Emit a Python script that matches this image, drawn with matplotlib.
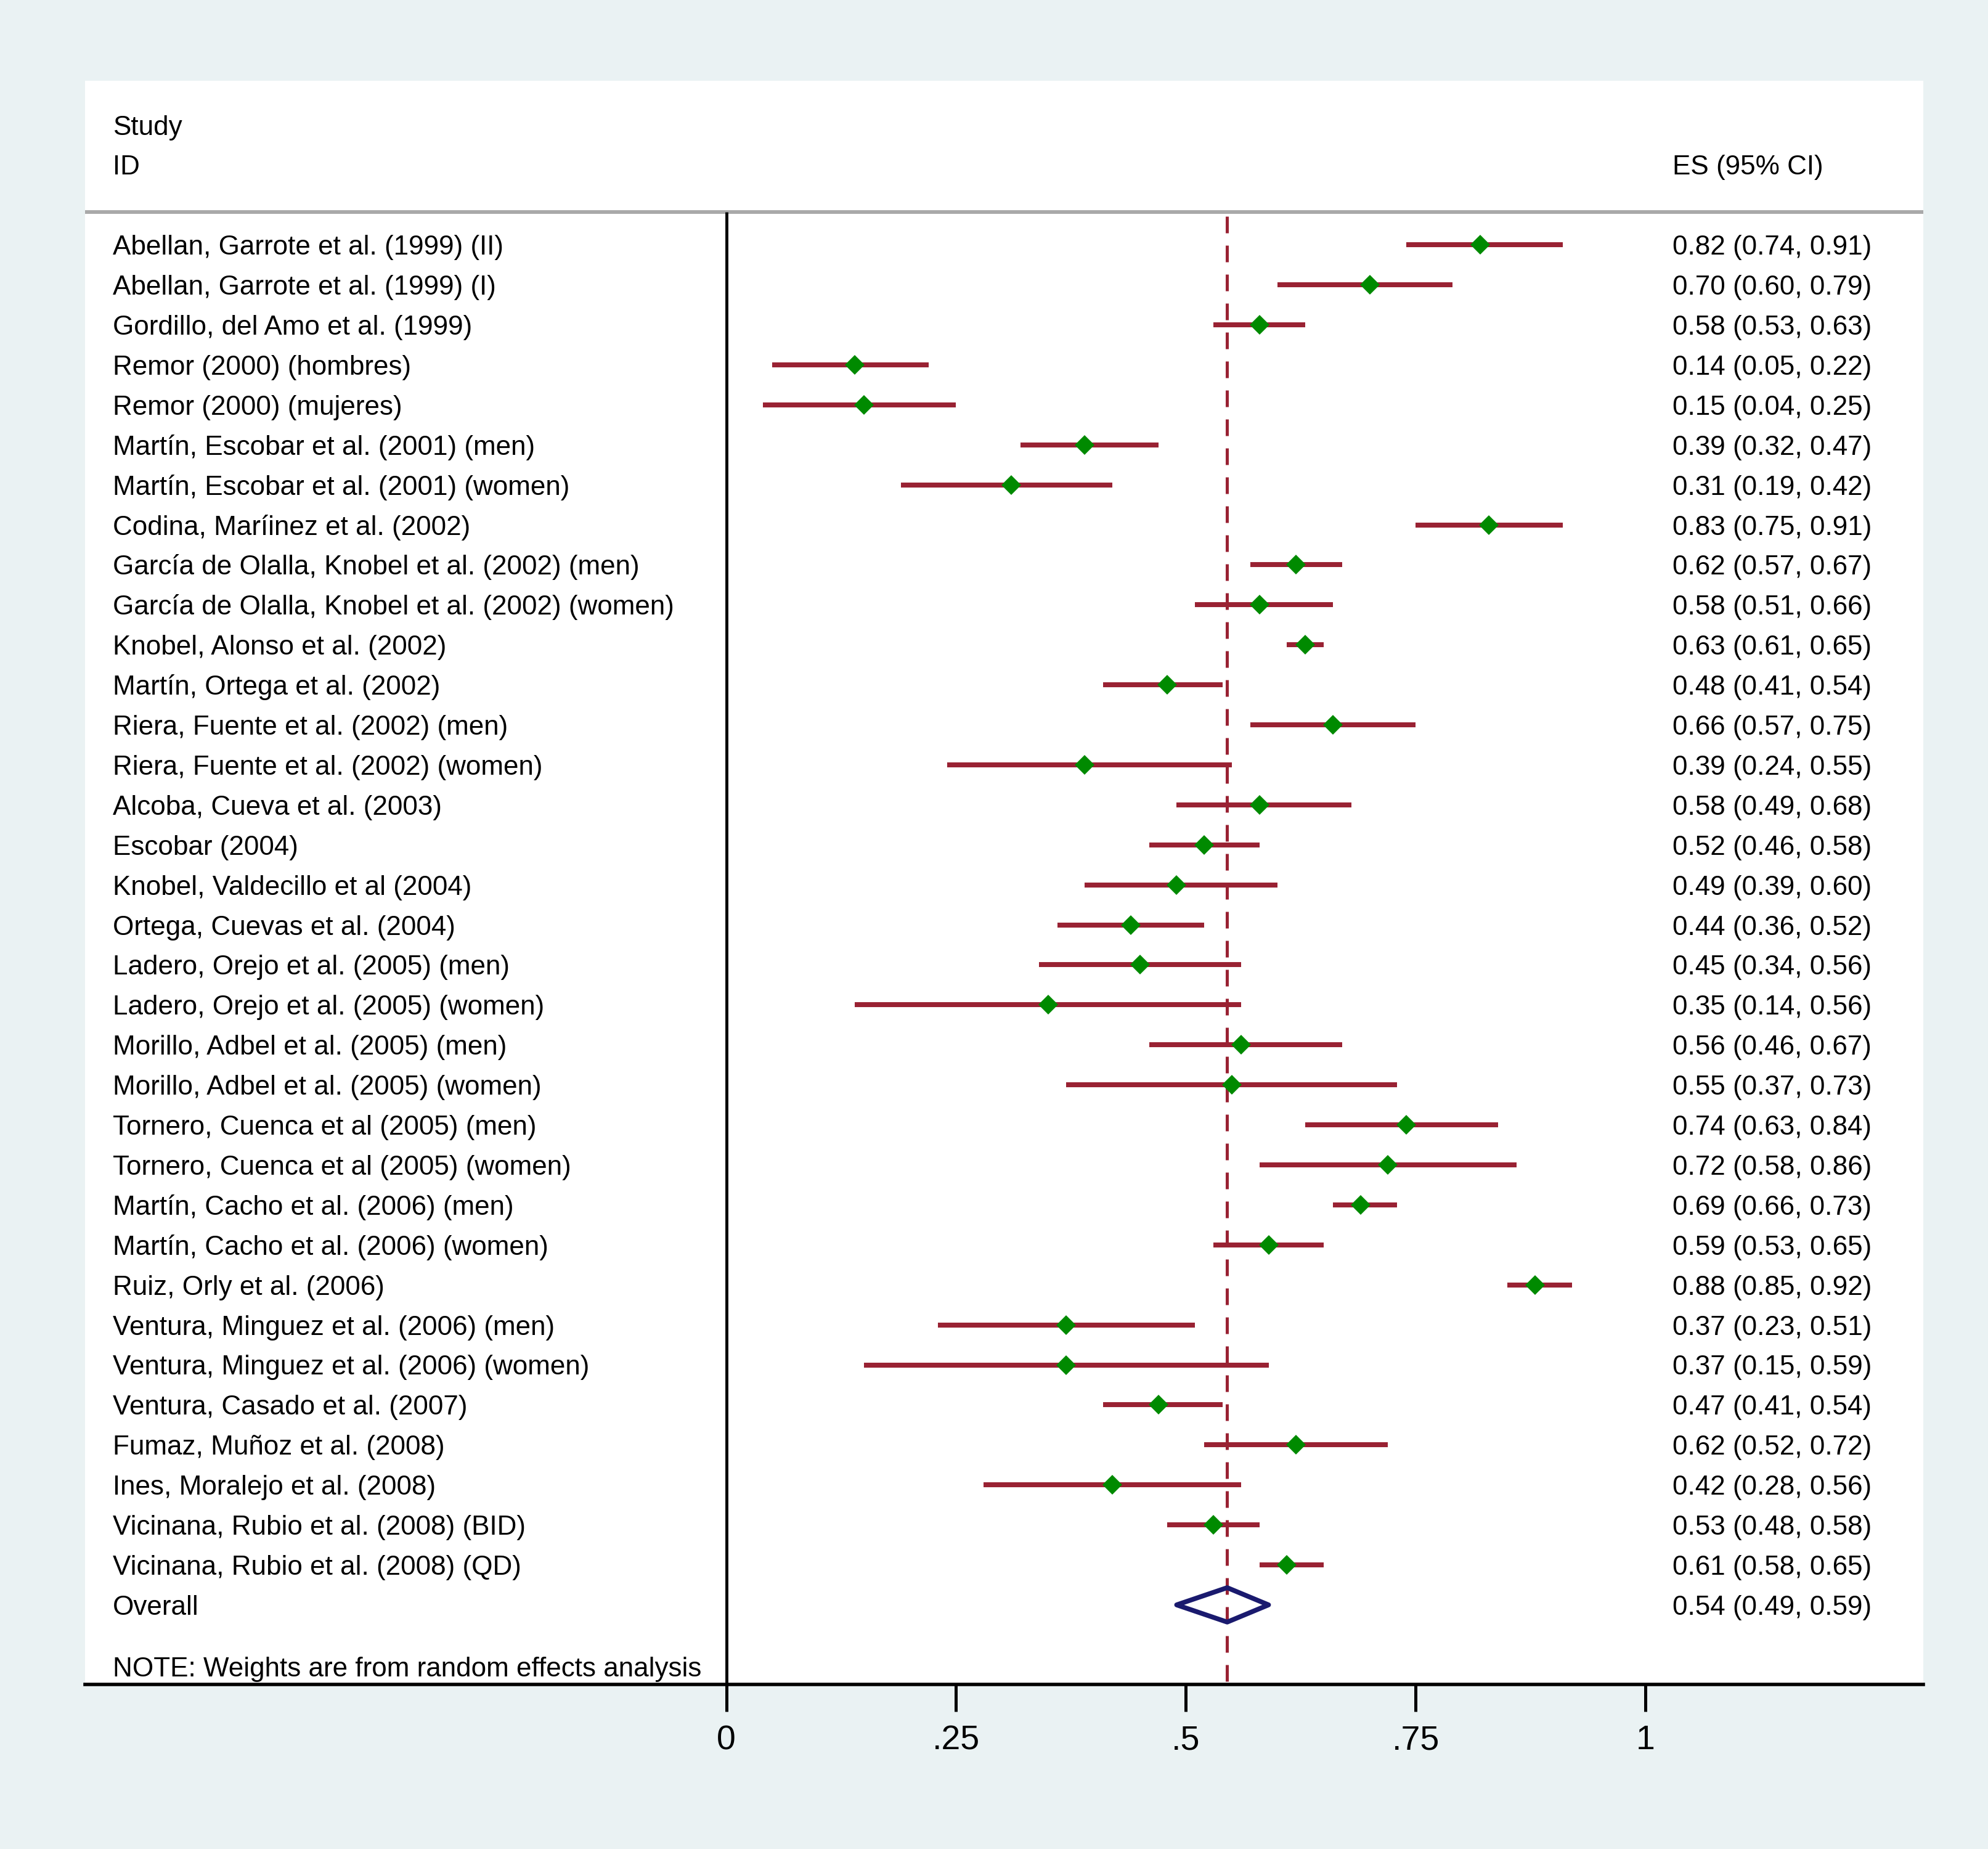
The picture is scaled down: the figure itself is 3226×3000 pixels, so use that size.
import numpy as np
import matplotlib
matplotlib.use("Agg")
import matplotlib.pyplot as plt
from matplotlib.patches import Polygon

# ---------------------------------------------------------
# Data
# ---------------------------------------------------------
studies = [
    "Abellan, Garrote et al. (1999) (II)",
    "Abellan, Garrote et al. (1999) (I)",
    "Gordillo, del Amo et al. (1999)",
    "Remor (2000) (hombres)",
    "Remor (2000) (mujeres)",
    "Martín, Escobar et al. (2001) (men)",
    "Martín, Escobar et al. (2001) (women)",
    "Codina, Maríinez et al. (2002)",
    "García de Olalla, Knobel et al. (2002) (men)",
    "García de Olalla, Knobel et al. (2002) (women)",
    "Knobel, Alonso et al. (2002)",
    "Martín, Ortega et al. (2002)",
    "Riera, Fuente et al. (2002) (men)",
    "Riera, Fuente et al. (2002) (women)",
    "Alcoba, Cueva et al. (2003)",
    "Escobar (2004)",
    "Knobel, Valdecillo et al (2004)",
    "Ortega, Cuevas et al. (2004)",
    "Ladero, Orejo et al. (2005) (men)",
    "Ladero, Orejo et al. (2005) (women)",
    "Morillo, Adbel et al. (2005) (men)",
    "Morillo, Adbel et al. (2005) (women)",
    "Tornero, Cuenca et al (2005) (men)",
    "Tornero, Cuenca et al (2005) (women)",
    "Martín, Cacho et al. (2006) (men)",
    "Martín, Cacho et al. (2006) (women)",
    "Ruiz, Orly et al. (2006)",
    "Ventura, Minguez et al. (2006) (men)",
    "Ventura, Minguez et al. (2006) (women)",
    "Ventura, Casado et al. (2007)",
    "Fumaz, Muñoz et al. (2008)",
    "Ines, Moralejo et al. (2008)",
    "Vicinana, Rubio et al. (2008) (BID)",
    "Vicinana, Rubio et al. (2008) (QD)",
]
es = [0.82, 0.70, 0.58, 0.14, 0.15, 0.39, 0.31, 0.83, 0.62, 0.58, 0.63, 0.48,
      0.66, 0.39, 0.58, 0.52, 0.49, 0.44, 0.45, 0.35, 0.56, 0.55, 0.74, 0.72,
      0.69, 0.59, 0.88, 0.37, 0.37, 0.47, 0.62, 0.42, 0.53, 0.61]
ci_low = [0.74, 0.60, 0.53, 0.05, 0.04, 0.32, 0.19, 0.75, 0.57, 0.51, 0.61, 0.41,
          0.57, 0.24, 0.49, 0.46, 0.39, 0.36, 0.34, 0.14, 0.46, 0.37, 0.63, 0.58,
          0.66, 0.53, 0.85, 0.23, 0.15, 0.41, 0.52, 0.28, 0.48, 0.58]
ci_high = [0.91, 0.79, 0.63, 0.22, 0.25, 0.47, 0.42, 0.91, 0.67, 0.66, 0.65, 0.54,
           0.75, 0.55, 0.68, 0.58, 0.60, 0.52, 0.56, 0.56, 0.67, 0.73, 0.84, 0.86,
           0.73, 0.65, 0.92, 0.51, 0.59, 0.54, 0.72, 0.56, 0.58, 0.65]

overall_label = "Overall"
overall_es = 0.545
overall_low = 0.49
overall_high = 0.59
overall_text = "0.54 (0.49, 0.59)"

tick_values = [0, 0.25, 0.5, 0.75, 1]
tick_labels = ["0", ".25", ".5", ".75", "1"]

BG = "#EAF2F3"
CI_RED = "#992233"
GREEN = "#008a00"
NAVY = "#1a1a6e"
FONT = "Liberation Sans"
FS = 31.7


def draw_forest():
    fig = plt.figure(figsize=(32.26, 30), dpi=100, facecolor=BG)

    # axes covers the white plot region (pixel layout of the original)
    W, H = 3226.0, 3000.0
    left_px, right_px, top_px, bottom_px = 138, 3121, 131, 2733
    ax = fig.add_axes([left_px / W, 1 - bottom_px / H,
                       (right_px - left_px) / W, (bottom_px - top_px) / H])
    ax.set_facecolor("white")

    x0_px, unit_px = 1178.6, 1491.4      # pixel of x=0 and width of one unit
    row0_px, row_px = 397.3, 64.9        # pixel of first row and row spacing
    ax.set_xlim((left_px - x0_px) / unit_px, (right_px - x0_px) / unit_px)
    ax.set_ylim((bottom_px - row0_px) / row_px, (top_px - row0_px) / row_px)

    n = len(studies)
    rows = np.arange(n)
    overall_row = n
    header_line = -0.82
    text_x = -0.6676
    es_x = 1.0295
    base_off = 0.245   # baseline offset so caps are centred on the row

    # header
    ax.text(text_x, -3 + base_off, "Study", fontsize=FS, family=FONT, va="baseline")
    ax.text(text_x, -2 + base_off, "ID", fontsize=FS, family=FONT, va="baseline")
    ax.text(es_x, -2 + base_off, "ES (95% CI)", fontsize=FS, family=FONT, va="baseline")
    ax.axhline(header_line, color="#a9a9a9", lw=4.3, zorder=1)

    # null line and overall effect line
    ax.plot([0, 0], [header_line, ax.get_ylim()[0]], color="black", lw=3.5,
            solid_capstyle="butt", zorder=2)
    ax.plot([overall_es, overall_es], [header_line + 0.1, ax.get_ylim()[0]],
            color=CI_RED, lw=3.6, linestyle=(0, (5.4, 4.0)), zorder=2)

    # study rows
    for i in rows:
        ax.plot([ci_low[i], ci_high[i]], [i, i], color=CI_RED, lw=5.8,
                solid_capstyle="butt", zorder=3)
        ax.plot(es[i], i, marker="D", ms=16, color=GREEN, mew=0, zorder=4)
        ax.text(text_x, i + base_off, studies[i], fontsize=FS, family=FONT,
                va="baseline")
        ax.text(es_x, i + base_off,
                f"{es[i]:.2f} ({ci_low[i]:.2f}, {ci_high[i]:.2f})",
                fontsize=FS, family=FONT, va="baseline")

    # overall diamond
    half_h = 0.43
    diamond = Polygon([[overall_low, overall_row], [overall_es, overall_row - half_h],
                       [overall_high, overall_row], [overall_es, overall_row + half_h]],
                      closed=True, facecolor="none", edgecolor=NAVY, lw=5.6,
                      joinstyle="round", zorder=5)
    ax.add_patch(diamond)
    ax.text(text_x, overall_row + base_off, overall_label, fontsize=FS,
            family=FONT, va="baseline")
    ax.text(es_x, overall_row + base_off, overall_text, fontsize=FS,
            family=FONT, va="baseline")

    ax.text(text_x, 35.54 + base_off, "NOTE: Weights are from random effects analysis",
            fontsize=FS, family=FONT, va="baseline")

    # axis styling
    for side in ["left", "right", "top"]:
        ax.spines[side].set_visible(False)
    ax.spines["bottom"].set_linewidth(4)
    ax.spines["bottom"].set_color("black")
    ax.set_yticks([])
    ax.set_xticks(tick_values)
    ax.set_xticklabels(tick_labels, family=FONT, fontsize=40)
    ax.tick_params(axis="x", direction="out", length=32, width=3.6, pad=15,
                   color="black")

    fig.savefig("out.png", dpi=100, facecolor=BG)
    print("[OK] saved out.png")


if __name__ == "__main__":
    draw_forest()
